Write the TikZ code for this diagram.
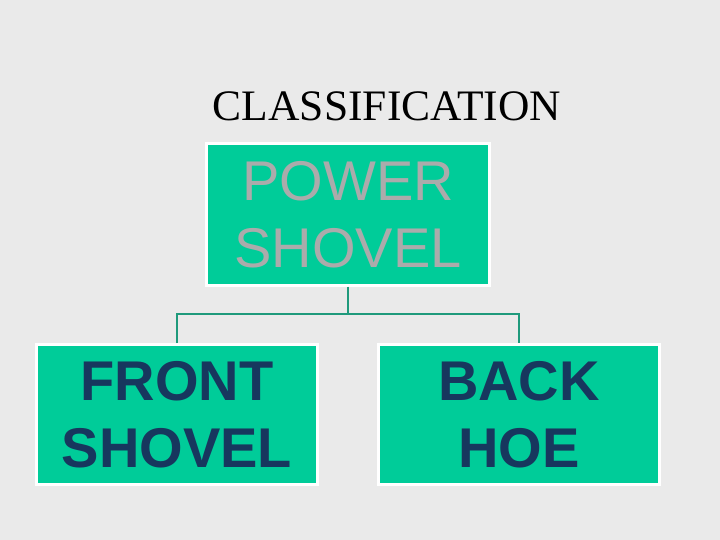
\documentclass[tikz,border=0pt]{standalone}
\usepackage{fontspec}
\setmainfont{Liberation Sans}
\newfontfamily\titlefont{Liberation Serif}
\definecolor{bg}{HTML}{EAEAEA}
\definecolor{boxfill}{HTML}{00CC99}
\definecolor{conncol}{HTML}{1F9A7C}
\definecolor{graytext}{HTML}{ABABAB}
\definecolor{navytext}{HTML}{17375E}
\begin{document}
\begin{tikzpicture}[x=1pt,y=-1pt,
  box/.style={draw=white, line width=3pt, fill=boxfill, inner sep=0pt, align=center,
    font=\fontsize{56}{67}\selectfont},
  conn/.style={draw=conncol, line width=2.8pt}]
\fill[bg] (0,0) rectangle (720,540);
\useasboundingbox (0,0) rectangle (720,540);
\node[anchor=base, font=\titlefont\fontsize{43.5}{50}\selectfont] (title) at (387,121) {CLASSIFICATION};
\node[box, minimum width=283pt, minimum height=141pt, text=graytext] (ps) at (348,214.5) {POWER\\SHOVEL};
\node[box, minimum width=281pt, minimum height=140pt, text=navytext, font=\bfseries\fontsize{56}{67}\selectfont] (fs) at (177,414.5) {FRONT\\SHOVEL};
\node[box, minimum width=281pt, minimum height=140pt, text=navytext, font=\bfseries\fontsize{56}{67}\selectfont] (bh) at (519,414.5) {BACK\\HOE};
\coordinate (j) at (348,314);
\draw[conn] (ps.south) -- (j);
\draw[conn] (fs.north) |- (j) -| (bh.north);
\end{tikzpicture}
\end{document}
